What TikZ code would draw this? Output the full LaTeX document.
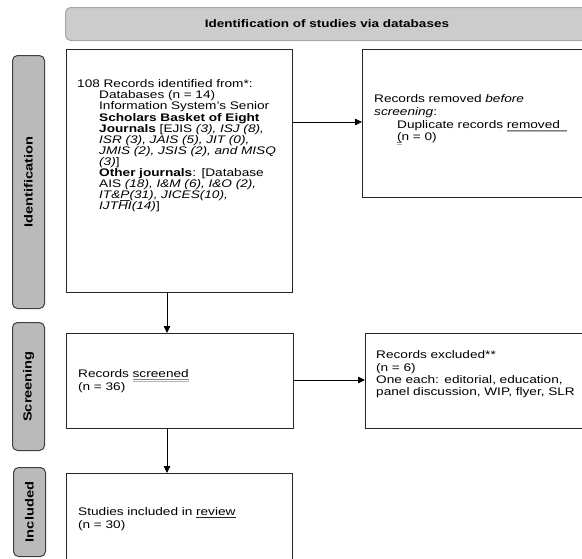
\documentclass[tikz,border=0pt]{standalone}
\usepackage{fontspec}
\setmainfont{Liberation Sans}[FakeStretch=1.24]
\usetikzlibrary{arrows.meta,calc}
\newcommand{\myul}[1]{\leavevmode\setbox0=\hbox{#1}\rlap{\color{black!85}\rule[-2.2pt]{\wd0}{0.6pt}}\box0}
\newcommand{\mygul}[1]{\leavevmode\setbox0=\hbox{#1}\rlap{\color{black!50}\rule[-2.2pt]{\wd0}{0.7pt}}\rlap{\color{black!30}\rule[-3.4pt]{\wd0}{0.6pt}}\box0}
\begin{document}
\begin{tikzpicture}[x=1pt,y=-1pt,
  box/.style={draw=black!85, line width=1pt, inner sep=0pt, anchor=north west, fill=white},
  sidelab/.style={draw=black!75, fill=black!27, line width=1pt, rounded corners=5pt, inner sep=0pt, anchor=north west},
  banner/.style={draw=black!35, fill=black!20, line width=1pt, rounded corners=5pt, inner sep=0pt, anchor=north west},
  labtxt/.style={font=\fontsize{11.8}{13}\selectfont\bfseries, rotate=90, inner sep=0pt},
  txt/.style={anchor=north west, inner sep=0pt, text width=#1, align=left},
  arr/.style={-{Triangle[length=7pt,width=6.5pt]}, line width=0.8pt, black}
]
\useasboundingbox (0,0) rectangle (582,558);
\clip (0,0) rectangle (582,558);
\fill[white] (0,0) rectangle (582,558);

% banner
\node[banner, minimum width=525pt, minimum height=33pt] (ban) at (65,7) {};
\node[font=\fontsize{10.9}{13}\selectfont\bfseries, inner sep=0pt] (bantxt) at (327,24) {Identification of studies via databases};

% side labels
\node[sidelab, minimum width=32pt, minimum height=253pt] (idl) at (12,55) {};
\node[labtxt] (idt) at (idl.center) {Identification};
\node[sidelab, minimum width=32pt, minimum height=128pt] (scl) at (12,322) {};
\node[labtxt] (sct) at (scl.center) {Screening};
\node[sidelab, minimum width=32pt, minimum height=89pt] (inl) at (13,467) {};
\node[labtxt] (int) at (inl.center) {Included};

% boxes
\node[box, minimum width=226pt, minimum height=243pt] (b1) at (66,49) {};
\node[box, minimum width=230pt, minimum height=148pt] (b2) at (362,49) {};
\node[box, minimum width=227pt, minimum height=95pt] (sb) at (66,333) {};
\node[box, minimum width=225pt, minimum height=95pt] (eb) at (365,333) {};
\node[box, minimum width=226pt, minimum height=110pt] (ib) at (66,473) {};

% texts
\node[txt=250pt, font={\fontsize{11}{11.1}\selectfont\lineskiplimit=-20pt}] (t1) at (77,77.5) {%
\rule{0pt}{10pt}108 Records identified from*:\\
\hspace*{22pt}Databases (n = 14)\\
\hspace*{22pt}Information System's Senior\\
\hspace*{22pt}\textbf{Scholars Basket of Eight}\\
\hspace*{22pt}\textbf{Journals} [EJIS \textit{(3), ISJ (8),}\\
\hspace*{22pt}\textit{ISR (3), JAIS (5), JIT (0),}\\
\hspace*{22pt}\textit{JMIS (2), JSIS (2), and MISQ}\\
\hspace*{22pt}\textit{(3)}]\\
\hspace*{22pt}\textbf{Other journals}: [Database\\
\hspace*{22pt}AIS \textit{(18), I\&M (6), I\&O (2),}\\
\hspace*{22pt}\textit{IT\&\myul{P}(31), JICES(10),}\\
\hspace*{22pt}\textit{IJTHI(14)}]};

\node[txt=220pt, font={\fontsize{11}{12.7}\selectfont\lineskiplimit=-20pt}] (t2) at (374,92.5) {%
\rule{0pt}{10pt}Records removed \textit{before}\\
\textit{screening}:\\
\hspace*{23pt}Duplicate records \mygul{removed\ \ }\\
\hspace*{23pt}\mygul{(}n = 0)};

\node[txt=200pt, font={\fontsize{11}{13}\selectfont\lineskiplimit=-20pt}] (t3) at (78,367.5) {%
\rule{0pt}{10pt}Records \mygul{screened}\\
(n = 36)};

\node[txt=215pt, font={\fontsize{11}{12.4}\selectfont\lineskiplimit=-20pt}] (t4) at (376,348.5) {%
\rule{0pt}{10pt}Records excluded**\\
(n = 6)\\
One each: editorial, education,\\
panel discussion, WIP, flyer, SLR};

\node[txt=200pt, font={\fontsize{11}{13}\selectfont\lineskiplimit=-20pt}] (t5) at (78,505.5) {%
\rule{0pt}{10pt}Studies included in \myul{review}\\
(n = 30)};

% connectors
\coordinate (xa) at (167,0);
\coordinate (ya) at (0,122);
\coordinate (yb) at (0,380);
\draw[arr] (b1.east |- ya) -- (b2.west |- ya);
\draw[arr] (b1.south -| xa) -- (sb.north -| xa);
\draw[arr] (sb.east |- yb) -- (eb.west |- yb);
\draw[arr] (sb.south -| xa) -- (ib.north -| xa);
\end{tikzpicture}
\end{document}
